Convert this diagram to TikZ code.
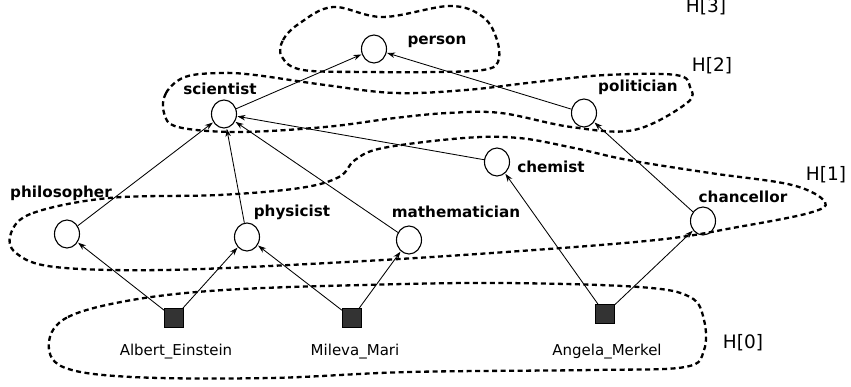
\documentclass[tikz,border=0pt]{standalone}
\usepackage{fontspec}
\setmainfont{DejaVu Sans}
\usetikzlibrary{shapes.geometric,arrows.meta}
\tikzset{
  concept/.style={draw, ellipse, line width=1.1pt, minimum width=25pt, minimum height=28pt, inner sep=0pt},
  entity/.style={draw, line width=0.8pt, fill=black!80, minimum size=19pt, inner sep=0pt},
  clabel/.style={font=\fontsize{15.2}{18}\selectfont\bfseries, inner sep=0pt},
  elabel/.style={font=\fontsize{15}{18}\selectfont, inner sep=0pt},
  hlabel/.style={font=\fontsize{18.5}{22}\selectfont, inner sep=0pt},
  isa/.style={-{Stealth[length=8pt,width=5.5pt]}, line width=0.85pt, shorten >=0.5pt},
  levelline/.style={line width=2.3pt, dash pattern=on 5pt off 3.5pt},
}
\begin{document}
\begin{tikzpicture}[x=1pt, y=-1pt]
\useasboundingbox (0,0) rectangle (851,387);

% level sets
\draw[levelline] plot[smooth cycle, tension=0.6] coordinates {(282,57) (283,40) (300,23) (333,7) (383,17) (450,6) (483,17) (497,40) (498,62) (483,70) (437,72) (370,72) (303,70)};
\draw[levelline] plot[smooth cycle, tension=0.6] coordinates {(164,113) (166,93) (185,77) (220,73) (255,75) (325,85) (395,93) (466,90) (536,82) (606,75) (676,75) (690,87) (687,103) (634,130) (571,127) (501,113) (448,113) (395,118) (325,127) (238,132) (178,127)};
\draw[levelline] plot[smooth cycle, tension=0.6] coordinates {(11,233) (33,213) (109,198) (219,195) (300,188) (339,177) (355,160) (383,148) (464,138) (519,138) (574,148) (628,160) (710,173) (792,185) (825,202) (809,213) (738,227) (656,240) (492,253) (328,263) (164,270) (55,267) (16,253)};
\draw[levelline] plot[smooth cycle, tension=0.6] coordinates {(49,342) (68,317) (132,300) (224,290) (363,285) (501,283) (639,287) (690,297) (704,320) (704,350) (685,367) (593,370) (409,372) (270,378) (132,377) (63,367)};

\node[hlabel] (h3) at (706,7) {H[3]};
\node[hlabel] (h2) at (712,66) {H[2]};
\node[hlabel] (h1) at (826,175) {H[1]};
\node[hlabel] (h0) at (743,343) {H[0]};

% concepts
\node[concept] (person) at (374,49) {};
\node[concept] (scientist) at (224,114) {};
\node[concept] (politician) at (584,113) {};
\node[concept] (chemist) at (497,162) {};
\node[concept] (philosopher) at (67,234) {};
\node[concept] (physicist) at (247,237) {};
\node[concept] (mathematician) at (409,240) {};
\node[concept] (chancellor) at (703,221) {};

\node[clabel] (lperson) at (437,42) {person};
\node[clabel] (lscientist) at (220,89) {scientist};
\node[clabel] (lpolitician) at (638,87) {politician};
\node[clabel] (lchemist) at (551,167) {chemist};
\node[clabel] (lphilosopher) at (61,193) {philosopher};
\node[clabel] (lphysicist) at (292,212) {physicist};
\node[clabel] (lmathematician) at (456,212) {mathematician};
\node[clabel] (lchancellor) at (743,197) {chancellor};

% entities
\node[entity] (einstein) at (174,318) {};
\node[entity] (mileva) at (352,318) {};
\node[entity] (merkel) at (605,314) {};

\node[elabel] (leinstein) at (176,352) {Albert\_Einstein};
\node[elabel] (lmileva) at (355,352) {Mileva\_Mari};
\node[elabel] (lmerkel) at (607,352) {Angela\_Merkel};

% subsumption edges
\draw[isa] (scientist) -- (person);
\draw[isa] (politician) -- (person);
\draw[isa] (philosopher) -- (scientist);
\draw[isa] (physicist) -- (scientist);
\draw[isa] (mathematician) -- (scientist);
\draw[isa] (chemist) -- (scientist);
\draw[isa] (chancellor) -- (politician);
\draw[isa] (einstein) -- (philosopher);
\draw[isa] (einstein) -- (physicist);
\draw[isa] (mileva) -- (physicist);
\draw[isa] (mileva) -- (mathematician);
\draw[isa] (merkel) -- (chemist);
\draw[isa] (merkel) -- (chancellor);
\end{tikzpicture}
\end{document}
